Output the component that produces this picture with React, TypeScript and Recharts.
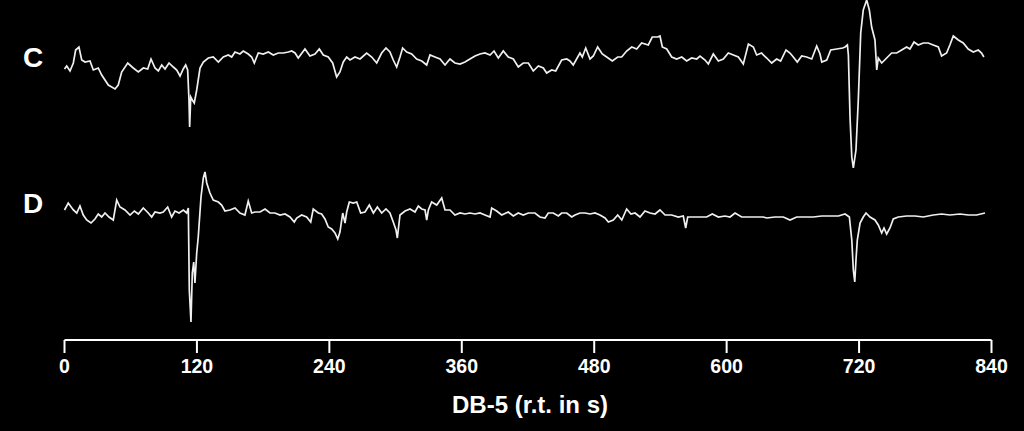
import { LineChart, Line, XAxis, YAxis } from 'recharts';

// retention time (s), signal (arbitrary units, 0 = baseline)
const traceC: [number, number][] = [
  [0, -9], [2, -6], [5, -11], [8, -3], [10.1, 10], [13.1, 13], [15.6, 0], [18.6, -2], [23.1, -1], [26.1, -10],
  [30.6, -8], [33.7, -15], [39.7, -25], [45.8, -29], [48.7, -25], [51.8, -12], [57.3, -3], [62.3, -8], [66.9, -12],
  [71.4, -8], [75.4, -9], [78.4, 1], [82, -8], [85, -11], [88.1, -5], [91.1, -9], [94.7, -3], [98.6, -7], [101.7, -10],
  [104.7, -16], [107.6, -9], [109.8, -5], [111.6, -10], [112.8, -40], [113.4, -67], [114.4, -37], [115.8, -40],
  [117.6, -43], [119.8, -30], [122.8, -8], [125.8, -2], [130.3, 2], [134.8, 3], [139.4, -2], [143.9, 3], [148.4, 5],
  [151.5, 3], [154.5, 8], [159, 6], [162, 9], [166.5, 6], [169.6, 3], [172, -3], [175.6, 7], [180.1, 6], [184.7, 8],
  [189.2, 5], [193.7, 7], [198.3, 7], [202.8, 8], [205.9, 9], [208.9, 7], [211.8, 2], [217.9, 11], [222.4, 4],
  [227, 6], [230.9, 11], [234.5, 5], [239, 3], [243, -3], [246.6, -17], [249.6, -12], [252.6, -2], [255.7, 3],
  [258.7, 0], [263.2, 3], [267.8, 1], [273.8, 7], [278.4, 3], [282.9, -3], [287.4, 7], [291.3, 12], [294.9, 8],
  [297.9, 0], [301, -7], [304, 3], [306.4, 12], [310.1, 8], [314.6, 6], [319.1, 1], [323.7, -1], [328.2, -5],
  [331.2, 5], [335.7, 3], [340.3, 1], [344.8, -5], [349.3, 1], [353.8, -3], [358.4, -4], [362.9, -2], [367.4, 1],
  [372, 4], [376.5, 6], [381, 7], [385.6, 5], [389.2, 9], [393.1, 2], [397.6, 9], [402.1, 3], [406.7, 1],
  [411.2, -7], [415.7, -3], [420.3, -3], [424.8, -11], [429.4, -6], [433.9, -8], [436.9, -13], [441.5, -10],
  [445.1, -11], [450.5, 0], [455.1, 1], [458, -1], [461, -5], [467.1, 7], [469.2, 3], [472.3, 12], [476.2, 1],
  [479.2, 4], [483.1, 13], [487.3, 6], [491.3, 3], [496.4, -1], [501.3, 3], [504.9, 3], [509.4, 9], [514, 13],
  [518.5, 11], [523, 17], [529, 15], [532.6, 23], [537.5, 23], [539.6, 24], [541.7, 13], [545.7, 11], [550.2, 3],
  [554.7, 1], [559.3, 3], [563.8, -1], [568.3, 2], [572.9, 1], [575.9, 4], [580.4, 0], [583.4, -4], [587.9, 6],
  [592.5, -1], [597, 1], [601.5, 7], [606.1, 5], [610.6, 3], [615.1, -4], [619.7, 16], [624.2, 13], [627.2, 5],
  [631.7, 7], [633.2, 5], [636.3, 2], [640.8, -3], [645.3, 1], [648.9, -1], [653.8, 10], [657.4, 7], [660.4, 3],
  [664, -2], [668, 4], [672.5, 3], [677.1, 1], [681.6, 14], [684.6, 6], [686.2, -2], [690.7, 0], [694.3, 10],
  [699.8, 11], [705.2, 12], [707.3, 13], [709.4, 15], [710.3, 5], [711.8, -57], [713.4, -97], [714.8, -108],
  [717.2, -90], [719.3, -40], [721.5, 27], [723.8, 50], [726.9, 60], [729.3, 50], [731.4, 33], [734.4, 20],
  [736, -10], [737.4, 2], [740.5, -3], [745, 2], [749.5, 7], [754.1, 7], [758.6, 10], [763.1, 13], [766.1, 11],
  [769.8, 18], [773.6, 15], [778.2, 17], [782.7, 17], [787.2, 15], [791.8, 13], [794.8, 4], [799.3, 7], [802.3, 15],
  [805.4, 24], [809.9, 20], [814.4, 17], [818.9, 11], [823.5, 8], [828, 10], [831, 7], [833.1, 3],
];

const traceD: [number, number][] = [
  [0, 2], [3.4, 9], [8, 2], [11.1, -1], [14, 6], [17, -3], [20.1, -8], [24, -11], [27.6, -7], [30.6, -2],
  [33.7, -5], [36.7, -1], [40.3, -5], [44.2, -8], [47.3, 12], [50.3, 5], [54.8, 2], [59.4, -3], [63.3, 1],
  [66.9, -2], [71.4, 4], [75.9, -1], [79, -5], [82, 0], [86.5, -1], [89.5, 0], [93.5, 5], [97.1, -5], [100.1, 1],
  [103.8, -1], [107.7, 2], [110.7, -1], [112.2, 4], [113.1, -78], [114.6, -110], [115.8, -61], [117.1, -50],
  [118.2, -71], [119.8, -41], [121.2, -25], [123.7, 15], [125.8, 34], [127.3, 40], [128.9, 29], [131.8, 19],
  [134.8, 12], [139.4, 10], [142.4, 7], [145.4, 1], [149.9, 2], [154.5, 4], [159, -1], [163.5, -3], [166.5, 11],
  [169.6, -1], [172.6, 0], [177.2, 0], [181.7, 3], [186.2, -1], [190.7, -1], [195.3, -3], [199.8, -2], [204.3, -5],
  [208.2, -10], [210.4, -6], [214.9, -3], [219.4, -5], [223.1, -10], [225.4, 3], [230, -1], [233, -2], [236, -7],
  [239, -15], [242.1, -17], [245.1, -21], [247.6, -27], [249.6, -20], [252.1, -1], [254.2, -11], [255.7, 0],
  [258.1, 10], [261.7, 9], [264.8, 10], [268.4, -1], [272.3, 0], [276.2, 7], [279.9, -1], [283.5, 5], [287.4, -1],
  [291.3, 3], [294.9, -1], [297.9, -10], [300.4, -18], [301.6, -26], [304, -3], [308.6, 1], [313.1, 3], [317.6, 0],
  [320.6, 6], [323.7, 3], [326.7, 2], [328.2, -8], [329.7, 2], [332.7, 10], [337.3, 7], [341.8, 14], [344.8, 2],
  [349.3, 2], [353.8, -3], [358.4, -1], [362.9, -2], [367.4, -1], [372, -2], [376.5, -1], [381, -3], [385.6, -5],
  [387.1, 4], [391.6, 1], [396.2, -3], [402.1, 0], [406.7, -4], [411.2, -1], [415.7, -3], [420.3, -1], [426.3, -1],
  [430.8, -5], [435.4, -6], [438.4, -1], [442.9, -1], [447.5, -4], [450.5, -1], [455.1, -1], [459.6, -5],
  [462.6, -3], [467.1, -1], [471.7, -1], [476.2, -2], [480.7, -1], [485.2, -3], [489.8, -6], [492.8, -10],
  [497.3, -8], [501.3, -3], [505, -8], [509.4, 3], [513.3, -2], [517, -1], [521.5, -5], [526, 1], [530.6, -1],
  [535.1, -2], [539.6, 2], [544.2, -3], [550.2, -3], [556.2, -5], [560.7, -4], [562.9, -16], [564.7, -5],
  [569.8, -5], [575.9, -5], [581.9, -5], [587, -2], [592.5, -5], [598.5, -4], [603.1, -5], [607.6, -1],
  [613.6, -5], [619.7, -5], [625.7, -5], [633.2, -5], [636.3, -6], [643.8, -5], [651.4, -5], [657.4, -8],
  [663.5, -5], [671, -5], [678.5, -5], [686.2, -4], [693.7, -4], [701.3, -4], [707.3, -2], [711.2, -5],
  [713.4, -28], [714.8, -58], [716.1, -70], [717.2, -48], [718.4, -28], [720.9, -11], [723.8, -5], [726.3, -1],
  [729.9, -5], [734.4, -8], [737.4, -13], [740.5, -21], [742.6, -16], [745, -22], [748, -16], [751, -7],
  [755.5, -5], [763.1, -4], [770.7, -4], [778.2, -5], [787.2, -3], [794.8, -2], [802.3, -3], [811.5, -2],
  [818.9, -3], [826.5, -3], [834.1, -1],
];

const xTicks = [0, 120, 240, 360, 480, 600, 720, 840];
const traceLabels = ['C', 'D'];
const axisTitle = 'DB-5 (r.t. in s)';

const dataC = traceC.map(([t, v]) => ({ t, v }));
const dataD = traceD.map(([t, v]) => ({ t, v }));

const FONT = '"Liberation Sans", Arial, sans-serif';

export default function App() {
  return (
    <div style={{ position: 'absolute', left: 0, top: 0, width: 1024, height: 431, background: '#000' }}>
      <LineChart width={1024} height={431} margin={{ top: 0, right: 32.5, bottom: 0, left: 64.5 }}>
        <XAxis
          type="number"
          dataKey="t"
          domain={[0, 840]}
          ticks={xTicks}
          height={91}
          tickSize={13}
          tickMargin={6}
          axisLine={{ stroke: '#fff', strokeWidth: 2 }}
          tickLine={{ stroke: '#fff', strokeWidth: 2 }}
          tick={{ fill: '#fff', fontSize: 19.5, fontWeight: 700, fontFamily: FONT }}
          allowDuplicatedCategory={false}
        />
        <YAxis yAxisId="c" type="number" domain={[-280, 60]} hide />
        <YAxis yAxisId="d" type="number" domain={[-128, 212]} hide />
        <Line yAxisId="c" data={dataC} dataKey="v" type="linear" stroke="#f0f0f0" strokeWidth={1.7} dot={false} isAnimationActive={false} />
        <Line yAxisId="d" data={dataD} dataKey="v" type="linear" stroke="#f0f0f0" strokeWidth={1.7} dot={false} isAnimationActive={false} />
      </LineChart>
      <svg width={1024} height={431} style={{ position: 'absolute', left: 0, top: 0, pointerEvents: 'none' }}>
        <text x={23} y={67} fill="#fff" fontSize={28} fontWeight={700} fontFamily={FONT}>{traceLabels[0]}</text>
        <text x={23} y={213} fill="#fff" fontSize={28} fontWeight={700} fontFamily={FONT}>{traceLabels[1]}</text>
        <text x={530} y={413} fill="#fff" fontSize={24} fontWeight={700} fontFamily={FONT} textAnchor="middle">{axisTitle}</text>
      </svg>
    </div>
  );
}
